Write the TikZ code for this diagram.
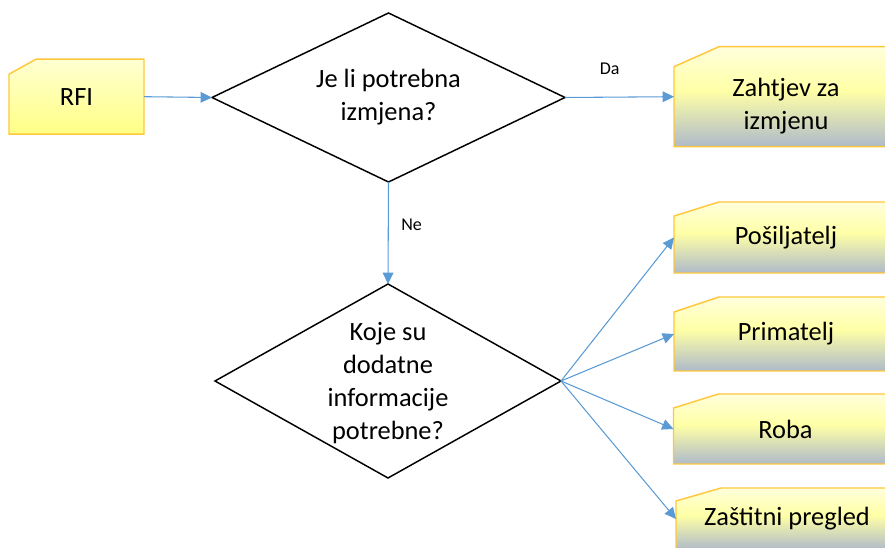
\documentclass[tikz,border=0pt]{standalone}
\usepackage{fontspec}
\setmainfont{Carlito}
\usetikzlibrary{shapes.geometric,arrows.meta,calc,backgrounds}
\definecolor{boxline}{HTML}{FFC83C}
\definecolor{arrowc}{HTML}{5B9BD5}
\definecolor{ylight}{HTML}{FFFFD2}
\definecolor{ytop}{HTML}{FFFFDC}
\definecolor{ymid}{HTML}{FFFFA6}
\definecolor{ydeep}{HTML}{FFFF84}
\definecolor{greyb}{HTML}{AEBACA}
\pgfdeclareverticalshading{yelgrey}{100bp}{color(0bp)=(greyb); color(25bp)=(greyb);
  color(53bp)=(ymid); color(75bp)=(ytop); color(100bp)=(ytop)}
\newcommand{\chamfshape}[4]{% node name, xsep px, ysep px, style
  \path[#4] (#1.south west) -- ($(#1.north west)+(0,#3)$) -- ($(#1.north west)+(#2,0)$)
    -- (#1.north east) -- (#1.south east) -- cycle;}
\begin{document}
\begin{tikzpicture}[x=0.75pt,y=-0.75pt,
  boxarea/.style={rectangle, inner sep=0pt, outer sep=0pt},
  chamfline/.style={draw=boxline, line width=1.1pt},
  rfifill/.style={chamfline, top color=ylight, bottom color=ydeep},
  outfill/.style={chamfline, shading=yelgrey},
  decision/.style={diamond, draw=black, line width=1.1pt, inner sep=0pt, outer sep=0pt},
  txt/.style={font=\fontsize{19.8}{24.75}\selectfont, align=center, text=black},
  edgelbl/.style={font=\fontsize{13.5}{16}\selectfont, text=black, inner sep=0pt},
  arr/.style={draw=arrowc, line width=0.8pt, -{Triangle[length=8.5pt,width=8pt]}}
]
\useasboundingbox (0,0) rectangle (885,548);
\clip (0,0) rectangle (885,548);

% source box
\node[boxarea, minimum width=135*0.75pt, minimum height=75*0.75pt,
  label={[txt]center:RFI}] (rfi) at (76.5,96.7) {};

% decisions
\node[decision, minimum width=353*0.75pt, minimum height=169*0.75pt,
  label={[txt]center:Je li potrebna\\izmjena?}] (d1) at (388.5,97.5) {};
\node[decision, minimum width=346*0.75pt, minimum height=194*0.75pt,
  label={[txt, yshift=-1.5pt]center:Koje su\\dodatne\\informacije\\potrebne?}] (d2) at (388,381) {};

% output boxes
\node[boxarea, minimum width=224*0.75pt, minimum height=100*0.75pt,
  label={[txt, yshift=-7pt]center:Zahtjev za\\izmjenu}] (zah) at (786,96.7) {};
\node[boxarea, minimum width=224*0.75pt, minimum height=71*0.75pt,
  label={[txt]center:Pošiljatelj}] (pos) at (786,237.5) {};
\node[boxarea, minimum width=224*0.75pt, minimum height=74*0.75pt,
  label={[txt]center:Primatelj}] (pri) at (786,334) {};
\node[boxarea, minimum width=224*0.75pt, minimum height=70*0.75pt,
  label={[txt]center:Roba}] (rob) at (785.5,429) {};
\node[boxarea, minimum width=222*0.75pt, minimum height=62*0.75pt,
  label={[txt]center:Zaštitni pregled}] (zas) at (787,519) {};

\begin{scope}[on background layer]
  \chamfshape{rfi}{27}{15}{rfifill}
  \chamfshape{zah}{45}{20}{outfill}
  \chamfshape{pos}{45}{14}{outfill}
  \chamfshape{pri}{45}{15}{outfill}
  \chamfshape{rob}{45}{14}{outfill}
  \chamfshape{zas}{45}{13}{outfill}
\end{scope}

% connectors
\draw[arr] (rfi.east) -- (d1.west);
\draw[arr] (d1.east) -- node[edgelbl, pos=0.41, yshift=21.4pt] (da) {Da} (zah.west);
\draw[arr] (d1.south) -- node[edgelbl, pos=0.42, xshift=17.5pt] (ne) {Ne} (d2.north);
\draw[arr] (d2.east) -- (pos.west);
\draw[arr] (d2.east) -- (pri.west);
\draw[arr] (d2.east) -- (rob.west);
\draw[arr] (d2.east) -- (zas.west);
\end{tikzpicture}
\end{document}
